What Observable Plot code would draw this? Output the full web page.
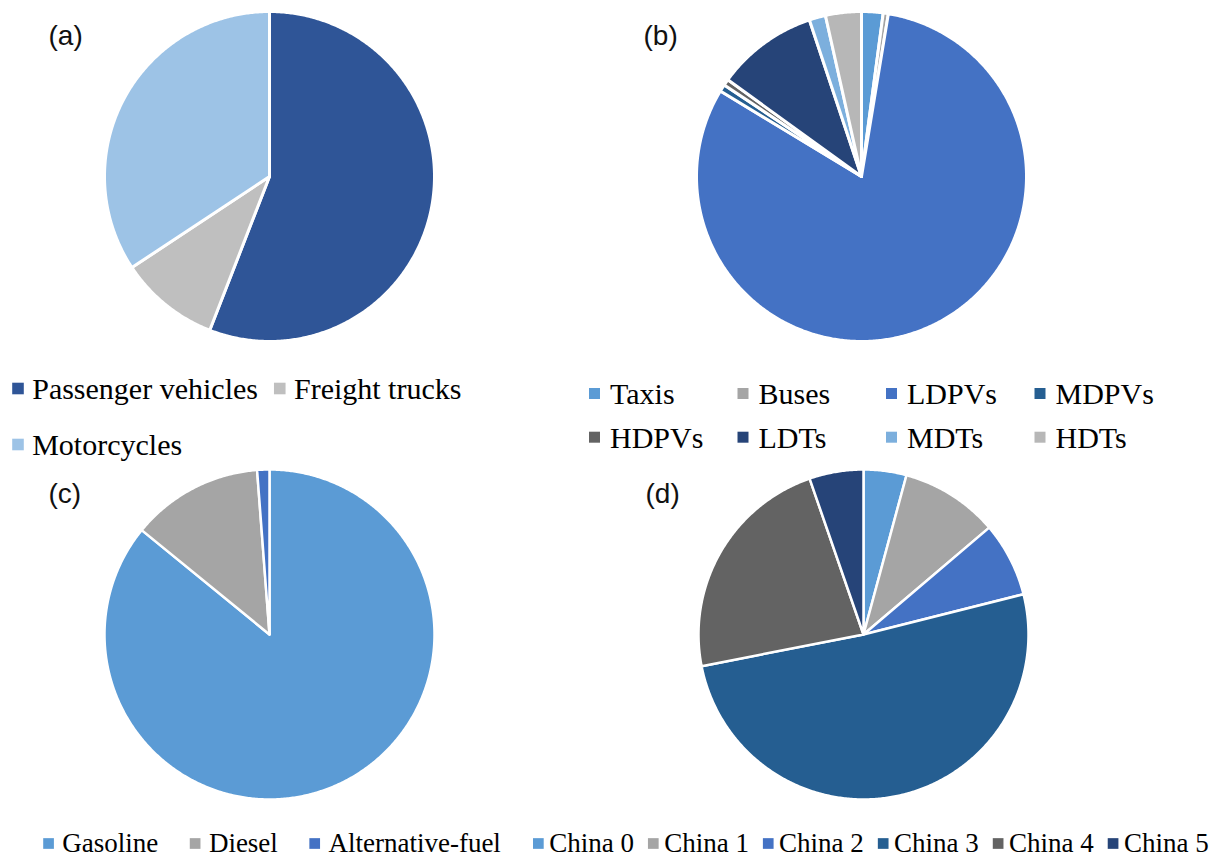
<!DOCTYPE html>
<html>
<head>
<meta charset="utf-8">
<script src="https://cdn.jsdelivr.net/npm/d3@7"></script>
<script src="https://cdn.jsdelivr.net/npm/@observablehq/plot@0.6"></script>
<style>
  html, body { margin: 0; padding: 0; background: #fff; }
  #chart svg { display: block; }
</style>
</head>
<body>
<div id="chart"></div>
<script>
// ---------- data ----------
const panelLabels = ["(a)", "(b)", "(c)", "(d)"];

const modeCategories = ["Passenger vehicles", "Freight trucks", "Motorcycles"];
const modeValues = [55.9, 9.8, 34.3];
const modeColors = ["#2F5597", "#BFBFBF", "#9DC3E6"];

const typeCategories = ["Taxis", "Buses", "LDPVs", "MDPVs", "HDPVs", "LDTs", "MDTs", "HDTs"];
const typeValues = [2.1, 0.5, 80.9, 0.7, 0.6, 9.9, 1.6, 3.5];
const typeColors = ["#5B9BD5", "#A5A5A5", "#4472C4", "#255E91", "#636363", "#264478", "#7CAFDD", "#B7B7B7"];

const fuelCategories = ["Gasoline", "Diesel", "Alternative-fuel"];
const fuelValues = [85.9, 12.9, 1.2];
const fuelColors = ["#5B9BD5", "#A5A5A5", "#4472C4"];

const standardCategories = ["China 0", "China 1", "China 2", "China 3", "China 4", "China 5"];
const standardValues = [4.2, 9.6, 7.3, 50.9, 22.8, 5.3];
const standardColors = ["#5B9BD5", "#A5A5A5", "#4472C4", "#255E91", "#636363", "#264478"];

// ---------- layout ----------
const W = 1216, H = 858, R = 165;
const pies = [
  {cats: modeCategories, vals: modeValues, cols: modeColors, cx: 269, cy: 176, sw: 3},
  {cats: typeCategories, vals: typeValues, cols: typeColors, cx: 861, cy: 176, sw: 3},
  {cats: fuelCategories, vals: fuelValues, cols: fuelColors, cx: 269, cy: 634, sw: 2.5},
  {cats: standardCategories, vals: standardValues, cols: standardColors, cx: 863, cy: 634, sw: 2.5}
];
const labelPos = [[48, 44], [643, 44], [48, 502], [645, 502]];

function slicePoints(p, key) {
  const arcs = d3.pie().sort(null).value(d => d)(p.vals);
  const pts = [];
  arcs.forEach((a, i) => {
    const id = key + "-" + i;
    const color = p.cols[i];
    pts.push({id, color, x: p.cx, y: p.cy});
    const n = Math.max(2, Math.ceil((a.endAngle - a.startAngle) / (Math.PI / 360)));
    for (let k = 0; k <= n; k++) {
      const t = a.startAngle + (a.endAngle - a.startAngle) * k / n;
      pts.push({id, color, x: p.cx + R * Math.sin(t), y: p.cy - R * Math.cos(t)});
    }
  });
  return pts;
}

// text measurement for legend flow
const ctx = document.createElement("canvas").getContext("2d");
function textWidth(s, size) {
  ctx.font = `${size}px "Liberation Serif"`;
  return ctx.measureText(s).width;
}

const legendItems = [];
// (a) legend
{
  const fs = 30, sq = 11.6;
  let x = 11.7;
  const rowsY = [388, 444];
  const rows = [[0, 1], [2]];
  rows.forEach((row, ri) => {
    let xx = x;
    row.forEach(i => {
      legendItems.push({label: modeCategories[i], color: modeColors[i], sx: xx + sq / 2, tx: xx + sq + 8.4, y: rowsY[ri], ty: rowsY[ri] + 1, fs, sq});
      xx = xx + sq + 8.4 + textWidth(modeCategories[i], fs) + 16;
    });
  });
}
// (b) legend: grid 4 columns
{
  const fs = 30, sq = 11;
  typeCategories.forEach((c, i) => {
    const col = i % 4, row = Math.floor(i / 4);
    const sx = 594 + col * 148.5;
    const y = [393, 436.7][row];
    legendItems.push({label: c, color: typeColors[i], sx, tx: sx + 15.5, y, ty: y + 1, fs, sq});
  });
}
// (c) legend: flow
{
  const fs = 27, sq = 10.7;
  let x = 42.7;
  fuelCategories.forEach((c, i) => {
    legendItems.push({label: c, color: fuelColors[i], sx: x + sq / 2, tx: x + sq + 8.4, y: 843, ty: 842.5, fs, sq});
    x = x + sq + 8.4 + textWidth(c, fs) + 31.5;
  });
}
// (d) legend: flow
{
  const fs = 27, sq = 10.7;
  let x = 532.5;
  standardCategories.forEach((c, i) => {
    legendItems.push({label: c, color: standardColors[i], sx: x + sq / 2, tx: x + sq + 5.5, y: 843, ty: 842.5, fs, sq});
    x = x + sq + 5.5 + textWidth(c, fs) + 14;
  });
}

const marks = [];
pies.forEach((p, pi) => {
  marks.push(Plot.line(slicePoints(p, "p" + pi), {
    x: "x", y: "y", z: "id", fill: "color", stroke: "white",
    strokeWidth: p.sw, strokeLinejoin: "round", curve: "linear-closed"
  }));
});

const labelData = panelLabels.map((t, i) => ({t, x: labelPos[i][0], y: labelPos[i][1] - 0.32 * 28}));
marks.push(Plot.text(labelData, {
  x: "x", y: "y", text: "t", textAnchor: "start", lineAnchor: "middle",
  fontSize: 28, fontFamily: "Liberation Sans", fill: "#111"
}));

// legend swatches and labels
[30, 27].forEach(fs => {
  const items = legendItems.filter(d => d.fs === fs);
  marks.push(Plot.dot(items, {
    x: "sx", y: "y", fill: "color", symbol: "square", r: d => d.sq / Math.sqrt(Math.PI), stroke: null
  }));
  marks.push(Plot.text(items, {
    x: "tx", y: "ty", text: "label", textAnchor: "start", lineAnchor: "middle",
    fontSize: fs, fontFamily: "Liberation Serif", fill: "#000"
  }));
});

const chart = Plot.plot({
  width: W, height: H, margin: 0,
  x: {domain: [0, W], range: [0, W], axis: null},
  y: {domain: [0, H], range: [0, H], axis: null},
  color: {type: "identity"},
  r: {type: "identity"},
  style: {background: "#fff"},
  marks
});
document.getElementById("chart").append(chart);
</script>
</body>
</html>
